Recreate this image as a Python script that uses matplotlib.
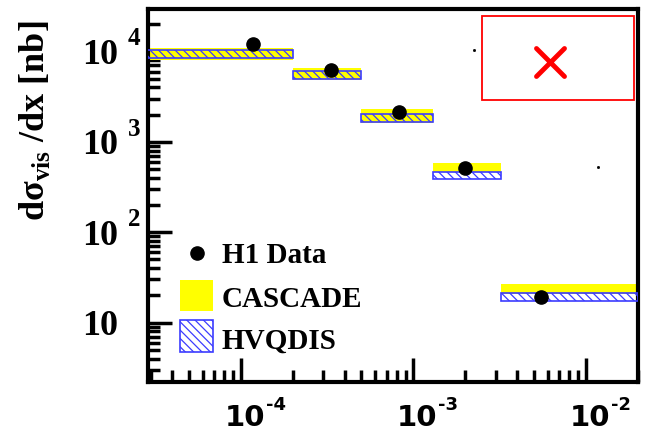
import math
import matplotlib
matplotlib.use("Agg")
import matplotlib.pyplot as plt
from matplotlib.patches import Rectangle
from matplotlib.lines import Line2D
from matplotlib.markers import MarkerStyle
from matplotlib.ticker import LogLocator, NullFormatter

plt.rcParams['mathtext.fontset'] = 'custom'
plt.rcParams['mathtext.bf'] = 'Liberation Serif:bold'
plt.rcParams['mathtext.rm'] = 'Liberation Serif:bold'
plt.rcParams['hatch.linewidth'] = 0.9

# x bins
x_lo = [2e-5, 2e-4, 5e-4, 1.3e-3, 3.2e-3]
x_hi = [2e-4, 5e-4, 1.3e-3, 3.2e-3, 2e-2]

# H1 measurement
x_data = [1.17e-4, 3.32e-4, 8.3e-4, 1.98e-3, 5.46e-3]
h1_data = [11960, 6310, 2150, 514, 19.0]

# model bands (lower / upper edge)
cascade_lo = [8000, 4890, 1615, 464, 20.5]
cascade_hi = [11000, 6590, 2330, 585, 26.4]
hvqdis_lo = [8360, 4970, 1640, 388, 17.5]
hvqdis_hi = [10340, 6150, 2030, 464, 21.0]

y_decades = [10, 100, 1000, 10000]
x_decades = [1e-4, 1e-3, 1e-2]

YELLOW = '#ffff00'
BLUE = '#3c3cff'
SERIF = 'Liberation Serif'

fig = plt.figure(figsize=(6.46, 4.32), dpi=100)
ax = fig.add_axes([148/646, 1-382/432, 490/646, 373/432])
ax.set_xscale('log')
ax.set_yscale('log')
ax.set_xlim(2.9e-5, 0.02)
ax.set_ylim(2.2, 2.95e4)

widths = [h - l for l, h in zip(x_lo, x_hi)]
ax.bar(x_lo, [h - l for l, h in zip(cascade_lo, cascade_hi)], bottom=cascade_lo,
       width=widths, align='edge', color=YELLOW, linewidth=0, zorder=2)
ax.bar(x_lo, [h - l for l, h in zip(hvqdis_lo, hvqdis_hi)], bottom=hvqdis_lo,
       width=widths, align='edge', fill=False, edgecolor=BLUE, hatch='\\\\\\\\',
       linewidth=1.2, zorder=3)
ax.plot(x_data, h1_data, 'o', color='black', ms=9.5, zorder=4)

# frame and ticks
for side in ['left', 'bottom', 'top', 'right']:
    ax.spines[side].set_linewidth(3)
ax.xaxis.set_major_locator(LogLocator(base=10, numticks=10))
ax.xaxis.set_minor_locator(LogLocator(base=10, subs=range(2, 10), numticks=20))
ax.yaxis.set_major_locator(LogLocator(base=10, numticks=10))
ax.yaxis.set_minor_locator(LogLocator(base=10, subs=range(2, 10), numticks=20))
ax.xaxis.set_minor_formatter(NullFormatter())
ax.yaxis.set_minor_formatter(NullFormatter())
ax.tick_params(which='both', direction='in', top=False, right=False,
               labelbottom=False, labelleft=False, width=2.5, color='black')
ax.tick_params(which='major', length=17)
ax.tick_params(which='minor', length=8.5)

# y tick labels: "10" with a detached exponent
ytr = ax.get_yaxis_transform()
for v in y_decades:
    ax.annotate('10', xy=(0, v), xycoords=ytr, xytext=(-30, 0),
                textcoords='offset pixels', ha='right', va='center_baseline',
                fontsize=26, fontweight='bold', family=SERIF)
    exp = round(math.log10(v))
    if exp > 1:
        ax.annotate(str(exp), xy=(0, v), xycoords=ytr, xytext=(-20, 15),
                    textcoords='offset pixels', ha='left', va='center_baseline',
                    fontsize=18, fontweight='bold', family=SERIF)

# x tick labels
xtr = ax.get_xaxis_transform()
for v in x_decades:
    exp = round(math.log10(v))
    ax.annotate('10', xy=(v, 0), xycoords=xtr, xytext=(4, -33),
                textcoords='offset pixels', ha='center', va='center_baseline',
                fontsize=21, fontweight='bold', family='DejaVu Sans')
    ax.annotate(str(exp), xy=(v, 0), xycoords=xtr, xytext=(25, -21),
                textcoords='offset pixels', ha='left', va='center_baseline',
                fontsize=13, fontweight='bold', family='DejaVu Sans')

fig.text(35/646, 1-121/432, 'dσ$_{\\mathbf{vis}}$ /dx [nb]', rotation=90,
         ha='center', va='center', fontsize=26, fontweight='bold', family=SERIF)

# legend
ax.plot([0.100], [0.346], 'o', color='black', ms=9.5, transform=ax.transAxes)
ax.add_patch(Rectangle((0.0653, 0.190), 0.0674, 0.083, transform=ax.transAxes,
                       color=YELLOW, lw=0))
ax.add_patch(Rectangle((0.0653, 0.080), 0.0674, 0.086, transform=ax.transAxes,
                       fill=False, edgecolor=BLUE, hatch='\\\\\\\\', lw=1.2))
for label, yy in [('H1 Data', 0.346), ('CASCADE', 0.228), ('HVQDIS', 0.118)]:
    ax.text(0.151, yy, label, transform=ax.transAxes, ha='left', va='center_baseline',
            fontsize=21, fontweight='bold', family=SERIF)

# broken picture placeholder in the corner
fig.add_artist(Rectangle((482/646, 1-100/432), 152/646, 84/432,
                         transform=fig.transFigure, fill=False, ec='red', lw=1.3))
fig.add_artist(Line2D([550/646], [1-62/432], transform=fig.transFigure,
                      marker=MarkerStyle('x', capstyle='round'), ms=20, mew=3.5,
                      color='red', ls='none'))
# stray specks
fig.add_artist(Line2D([474/646, 598/646], [1-50/432, 1-167/432],
                      transform=fig.transFigure, marker='s', ms=1, color='black',
                      ls='none'))

fig.savefig('out.png', dpi=100)
